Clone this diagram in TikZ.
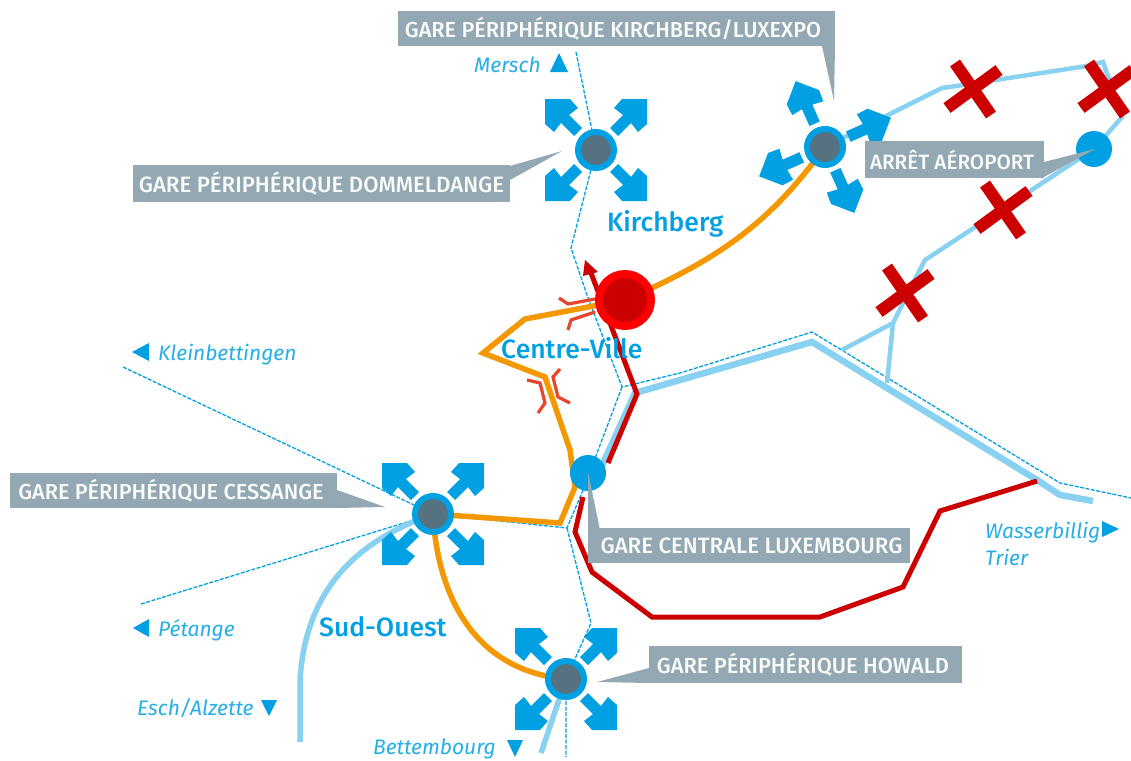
\documentclass[tikz,border=0pt]{standalone}
\usepackage{fontspec}
\setmainfont{Fira Sans}
\newfontfamily\medfont{Fira Sans Medium}
\usetikzlibrary{backgrounds}
\definecolor{hubblue}{HTML}{00A0E2}
\definecolor{railblue}{HTML}{88D1F0}
\definecolor{hubgrey}{HTML}{56717F}
\definecolor{lblgrey}{HTML}{93A8B2}
\definecolor{tramred}{HTML}{CC0000}
\definecolor{brightred}{HTML}{FF0000}
\definecolor{tramorange}{HTML}{F39800}
\definecolor{bridgered}{HTML}{E8452C}
\tikzset{
  x=1pt,y=-1pt,
  hubnode/.style={circle,draw=hubblue,fill=hubgrey,line width=6pt,minimum size=36pt,inner sep=0pt},
  dotnode/.style={circle,fill=hubblue,minimum size=36pt,inner sep=0pt},
  lbl/.style={fill=lblgrey,text=white!95!lblgrey,inner sep=0pt,font=\medfont\fontsize{#1}{24}\selectfont},
  ptr/.style={fill=lblgrey},
  place/.style={text=hubblue!85!white,inner sep=0pt,anchor=base west,font=\fontsize{21}{24}\selectfont\itshape},
  area/.style={text=hubblue,inner sep=0pt,anchor=base west,font=\medfont\fontsize{26.5}{30}\selectfont},
  tri/.style={fill=hubblue},
  thin rail/.style={draw=hubblue,line width=1.3pt,dash pattern=on 4pt off 1.5pt},
  rail/.style={draw=railblue,line width=4.5pt},
  thick rail/.style={draw=railblue,line width=6.5pt},
  orangeline/.style={draw=tramorange,line width=5.5pt,line join=miter},
  redline/.style={draw=tramred,line width=5pt},
  bridge/.style={draw=bridgered,line width=3.2pt},
  arrows4/.pic={
    \foreach \a in {0,90,180,270}{
      \fill[hubblue,rotate=\a] (51,-51) -- (26,-51) -- (18,-42) -- (27,-35) -- (14,-22) -- (22,-14) -- (35,-27) -- (42,-18) -- (51,-26) -- cycle;
    }
  },
  crossmark/.pic={
    \draw[tramred,line width=12pt] (-18,-26) -- (18,26);
    \draw[tramred,line width=12pt] (26,-19) -- (-26,19);
  }
}
\begin{document}
\begin{tikzpicture}
\clip (0,0) rectangle (1131,760);

% places (text above the lines)
\node[area] (centreville) at (501,358) {Centre-Ville};
\node[area] (kirchberg) at (607,231) {Kirchberg};
\node[area] (sudouest) at (319,636) {Sud-Ouest};

% stations
\node[hubnode] (dommeldange) at (596,150) {};
\node[hubnode] (kirchhub) at (825,147) {};
\node[hubnode] (cessange) at (433,514) {};
\node[hubnode] (howald) at (566,679) {};
\node[dotnode] (aeroport) at (1094,149) {};
\node[dotnode] (centrale) at (588,473) {};
\node[circle,draw=brightred,fill=tramred,line width=8pt,minimum size=52pt,inner sep=0pt] (redhub) at (625,300) {};

\coordinate (merschend) at (576,52);
\coordinate (kleinend) at (123,367);
\coordinate (petangeend) at (141,604);
\coordinate (eschend) at (300,742);
\coordinate (trierend) at (1131,498);
\coordinate (wasserend) at (1093,501);
\coordinate (howsouth) at (566,757);
\coordinate (howsouthb) at (541,753);
\coordinate (redtip) at (591,273);
\coordinate (forkA) at (842,350);
\coordinate (forkB) at (887,383);
\coordinate (redstop) at (1037,481);

\begin{scope}[on background layer]
  \fill[white] (0,0) rectangle (1131,760);
  % thin dashed lines
  \draw[thin rail] (merschend) -- (dommeldange.center) -- (571,248) -- (587,295) -- (622,387) -- (680,373) -- (812,332) -- (1060,483) -- (trierend);
  \draw[thin rail] (622,387) -- (583,490) -- (567,528) -- (cessange.center);
  \draw[thin rail] (567,528) -- (591,623) -- (howald.center) -- (howsouth);
  \draw[thin rail] (kleinend) -- (cessange.center);
  \draw[thin rail] (petangeend) -- (cessange.center);
  % light rail
  \draw[rail] (kirchhub.center) -- (888,115) -- (942,88) -- (963,85) -- (1087,66) -- (1103,62) -- (1122,117) -- (aeroport.center) -- (925,260) -- (913,283) -- (893,323) -- (forkA);
  \draw[rail] (893,323) -- (forkB);
  \draw[thick rail] (600,470) -- (635,393) -- (812,342) -- (1037,480) -- (1060,495) -- (wasserend);
  \draw[draw=railblue,line width=5.5pt] (eschend) -- (300,680) .. controls (305,600) and (345,545) .. (cessange.center);
  \draw[draw=railblue,line width=5.5pt] (howsouthb) -- (howald.center);
  % orange
  \draw[orangeline] (kirchhub.center) .. controls (775,215) and (730,255) .. (redhub.center);
  \draw[orangeline] (redhub.center) -- (525,319) -- (483,353) -- (545,377) -- (570,450) -- (575,487) -- (560,523) -- (cessange.center);
  \draw[orangeline] (cessange.center) .. controls (437,590) and (470,670) .. (howald.center);
  % red
  \draw[redline] (redtip) -- (637,394) -- (608,463);
  \fill[tramred] (585,260) -- (583,276) -- (598,272) -- cycle;
  \draw[redline] (583,497) -- (575,532) -- (592,572) -- (652,617) -- (820,617) -- (903,587) -- (940,511) -- (redstop);
  % bridges
  \draw[bridge] (559,298) -- (568,304) -- (595,299);
  \draw[bridge] (568,330) -- (571,320) -- (595,312);
  \draw[bridge] (527,380) -- (540,383) -- (545,403) -- (538,413);
  \draw[bridge] (560,369) -- (553,377) -- (558,397) -- (570,403);
\end{scope}

% direction arrows
\pic at (596,150) {arrows4};
\pic at (433,514) {arrows4};
\pic at (566,679) {arrows4};
\pic[rotate=-21] at (825,147) {arrows4};

% crosses
\pic at (973,89) {crossmark};
\pic at (1107,89) {crossmark};
\pic at (1003,210) {crossmark};
\pic at (905,293) {crossmark};

% label pointers
\fill[ptr] (822,46) -- (834,101) -- (835,46) -- cycle;
\fill[ptr] (510,166) -- (562,151) -- (510,180) -- cycle;
\fill[ptr] (1044,162) -- (1095,149) -- (1044,177) -- cycle;
\fill[ptr] (337,490) -- (385,507) -- (337,508) -- cycle;
\fill[ptr] (588,472) -- (600,530) -- (588,530) -- cycle;
\fill[ptr] (649,668) -- (597,682) -- (649,683) -- cycle;

% labels
\node[lbl=21.7,minimum width=437pt,minimum height=35pt] (lblkirch) at (616.5,28.5) {\hspace*{-7pt}GARE PÉRIPHÉRIQUE KIRCHBERG/LUXEXPO};
\node[lbl=22.2,minimum width=377pt,minimum height=37pt] (lbldomm) at (321.5,183.5) {GARE PÉRIPHÉRIQUE DOMMELDANGE};
\node[lbl=20.7,minimum width=179pt,minimum height=37pt] (lblaero) at (954.5,159.5) {\hspace*{-5pt}ARRÊT AÉROPORT};
\node[lbl=21.7,minimum width=327pt,minimum height=35pt] (lblcess) at (173.5,490.5) {\hspace*{-5pt}GARE PÉRIPHÉRIQUE CESSANGE};
\node[lbl=22.2,minimum width=322pt,minimum height=35pt] (lblcent) at (749,545.5) {\hspace*{5pt}GARE CENTRALE LUXEMBOURG};
\node[lbl=21.8,minimum width=313pt,minimum height=37pt] (lblhow) at (805.5,664.5) {\hspace*{-5pt}GARE PÉRIPHÉRIQUE HOWALD};

% place names
\node[place] (mersch) at (474,72) {Mersch};
\node[place] (klein) at (158,360) {Kleinbettingen};
\node[place] (petange) at (158,636) {Pétange};
\node[place] (esch) at (137,715) {Esch/Alzette};
\node[place] (bett) at (373,754) {Bettembourg};
\node[place] (wasser) at (985,538) {Wasserbillig};
\node[place] (trier) at (985,565) {Trier};

% triangles
\fill[tri] (559,53) -- (550,72) -- (568,72) -- cycle;
\fill[tri] (132,352) -- (149,343) -- (149,361) -- cycle;
\fill[tri] (133,628) -- (149,619) -- (149,637) -- cycle;
\fill[tri] (261,700) -- (277,700) -- (269,716) -- cycle;
\fill[tri] (507,740) -- (523,740) -- (515,757) -- cycle;
\fill[tri] (1102,521) -- (1102,537) -- (1119,529) -- cycle;
\end{tikzpicture}
\end{document}
